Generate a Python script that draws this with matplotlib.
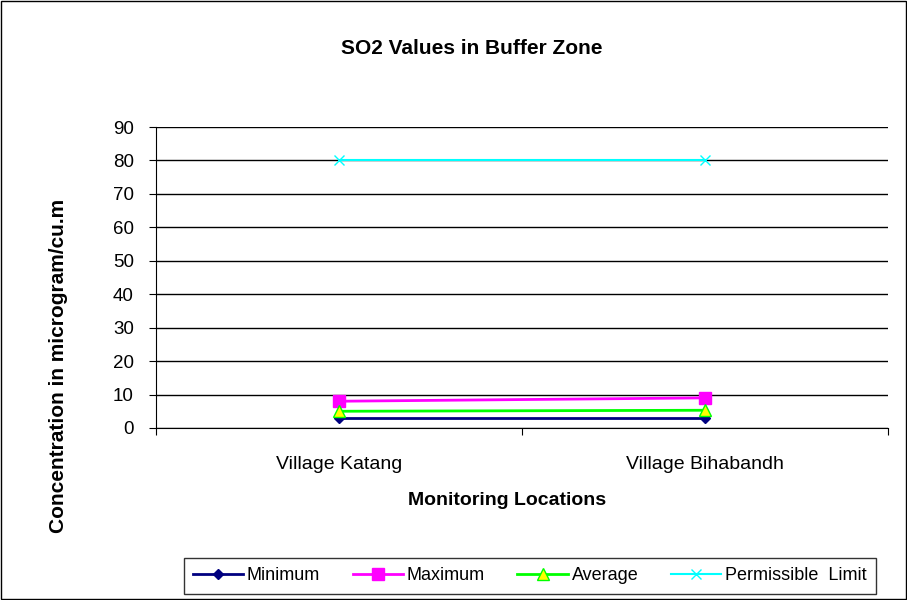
import numpy as np
import matplotlib
matplotlib.use("Agg")
import matplotlib.pyplot as plt
from matplotlib.patches import Rectangle

plt.rcParams['font.family'] = ['Liberation Sans', 'DejaVu Sans']

locations = ['Village Katang', 'Village Bihabandh']
minimum = [3, 3]
maximum = [8, 9]
average = [5, 5.3]
permissible = [80, 80]

fig = plt.figure(figsize=(9.07, 6.0), dpi=100)
ax = fig.add_axes([0.172, 0.2867, 0.807, 0.5016])

x = np.arange(len(locations)) + 0.5
ax.plot(x, minimum, color='#000080', marker='D', markersize=5, lw=2, label='Minimum')
ax.plot(x, maximum, color='#FF00FF', marker='s', markersize=8, lw=2, label='Maximum')
ax.plot(x, average, color='#00FF00', marker='^', markersize=8, markerfacecolor='yellow',
        markeredgecolor='#00FF00', lw=2, label='Average')
ax.plot(x, permissible, color='#00FFFF', marker='x', markersize=7, lw=1.5,
        label='Permissible  Limit')

ax.set_xlim(0, 2)
ax.set_ylim(0, 90)
ax.set_yticks(range(0, 91, 10))
ax.set_xticks([0, 1, 2])
ax.set_xticklabels([])
ax.set_xticks(x, minor=True)
ax.set_xticklabels(locations, minor=True, fontsize=14)
ax.tick_params(axis='x', which='minor', length=0, pad=20)
ax.tick_params(axis='x', which='major', length=5, direction='out')
ax.tick_params(axis='y', labelsize=13.5, length=5, pad=11)
ax.grid(axis='y', color='black', lw=1)
for s in ['top', 'right']:
    ax.spines[s].set_visible(False)
ax.set_axisbelow(True)

fig.text(0.52, 0.92, 'SO2 Values in Buffer Zone', ha='center', va='center',
         fontsize=15, fontweight='bold')
fig.text(0.559, 0.166, 'Monitoring Locations', ha='center', va='center',
         fontsize=14, fontweight='bold')
fig.text(0.064, 0.39, 'Concentration in microgram/cu.m', ha='center', va='center',
         fontsize=15, fontweight='bold', rotation=90)

leg = fig.legend(loc='center', bbox_to_anchor=(0.584, 0.04), ncol=4, frameon=True,
                 fancybox=False, edgecolor='black', fontsize=13, handlelength=2.8,
                 columnspacing=1.8, handletextpad=0.2, borderpad=0.5)
leg.get_frame().set_linewidth(1)

fig.patches.append(Rectangle((0.001, 0.001), 0.998, 0.997, transform=fig.transFigure,
                             fill=False, edgecolor='black', lw=1))

fig.savefig('out.png', dpi=100)
